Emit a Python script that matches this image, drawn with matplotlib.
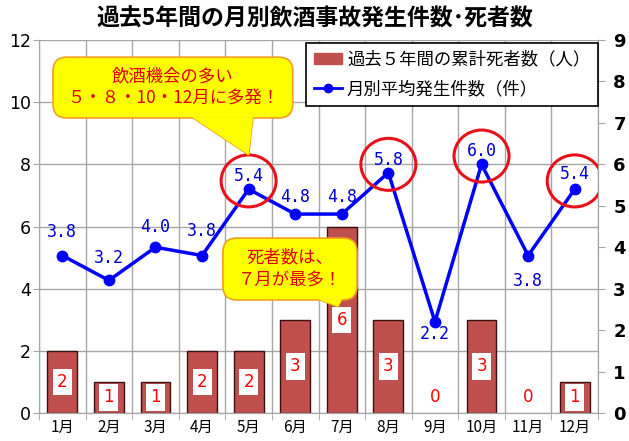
import matplotlib
matplotlib.use('Agg')
import matplotlib.pyplot as plt
from matplotlib.patches import FancyBboxPatch, Polygon, Ellipse, Patch
from matplotlib.lines import Line2D
import numpy as np

plt.rcParams['font.family'] = ['Noto Sans CJK JP', 'DejaVu Sans']

months = ['1月', '2月', '3月', '4月', '5月', '6月', '7月', '8月', '9月', '10月', '11月', '12月']
deaths = [2, 1, 1, 2, 2, 3, 6, 3, 0, 3, 0, 1]
avg_cases = [3.8, 3.2, 4.0, 3.8, 5.4, 4.8, 4.8, 5.8, 2.2, 6.0, 3.8, 5.4]
avg_labels = ['3.8', '3.2', '4.0', '3.8', '5.4', '4.8', '4.8', '5.8', '2.2', '6.0', '3.8', '5.4']
highlight = [4, 7, 9, 11]
left_ticks = [0, 2, 4, 6, 8, 10, 12]
right_ticks = [0, 1, 2, 3, 4, 5, 6, 7, 8, 9]
title = '過去5年間の月別飲酒事故発生件数･死者数'
legend_bar = '過去５年間の累計死者数（人）'
legend_line = '月別平均発生件数（件）'
callout1 = '飲酒機会の多い\n５・８・10・12月に多発！'
callout2 = '死者数は、\n７月が最多！'

# label vertical offsets in pixels (positive = above)
label_dy = [24, 22, 20, 25, 13, 17, 17, 13, -12, 13, -25, 15]

W, H = 629, 441
fig = plt.figure(figsize=(W / 100, H / 100), dpi=100)
ax = fig.add_axes([39 / W, 1 - 413 / H, 559 / W, 373 / H])
ax2 = ax.twinx()

x = np.arange(len(months))
grid_c = '#a6a6a6'

# bars
ax.bar(x, deaths, width=0.64, color='#c0504d', edgecolor='#3a1010',
       linewidth=[1.0 if v > 0 else 0 for v in deaths], zorder=2)
ax.set_ylim(0, 12)
ax.set_xlim(-0.5, len(months) - 0.5)
ax.set_yticks(left_ticks)
ax.set_xticks(x)
ax.set_xticklabels(months, fontsize=11)
ax.set_xticks(np.arange(-0.5, len(months), 1), minor=True)
ax.tick_params(axis='x', which='major', length=0, pad=4)
ax.tick_params(axis='x', which='minor', length=5, color=grid_c, direction='out')
ax.tick_params(axis='y', length=4, color=grid_c, labelsize=12.5, pad=2)
for lab in ax.get_yticklabels():
    lab.set_fontfamily(['Liberation Sans Narrow', 'DejaVu Sans'])
ax.grid(True, axis='y', color=grid_c, linewidth=1.0, zorder=0)
ax.grid(True, axis='x', which='minor', color=grid_c, linewidth=1.0, zorder=0)
ax.set_axisbelow(True)
for sp in ax.spines.values():
    sp.set_color(grid_c)
ax.spines['top'].set_visible(False)

# bar labels
for xi, v in zip(x, deaths):
    ypos = max(v / 2, 0.5)
    if v > 0:
        ax.text(xi, ypos, str(v), ha='center', va='center', color='#ff0000', fontsize=12,
                fontfamily=['DejaVu Sans'], zorder=4,
                bbox=dict(boxstyle='square,pad=0.25', fc='white', ec='none'))
    else:
        ax.text(xi, ypos, str(v), ha='center', va='center', color='#ff0000', fontsize=12,
                fontfamily=['DejaVu Sans'], zorder=4)

# line
ax2.plot(x, avg_cases, color='#0000ff', linewidth=2.5, marker='o', markersize=7.5, zorder=5)
ax2.set_ylim(0, 9)
ax2.set_yticks(right_ticks)
ax2.tick_params(axis='y', length=5, color=grid_c, labelsize=13, pad=6)
for lab in ax2.get_yticklabels():
    lab.set_fontweight('bold')
    lab.set_fontfamily(['DejaVu Sans'])
for sp in ax2.spines.values():
    sp.set_color(grid_c)
ax2.spines['top'].set_visible(False)

for xi, v, s, dy in zip(x, avg_cases, avg_labels, label_dy):
    ax2.annotate(s, (xi, v), xytext=(0, dy * 0.72), textcoords='offset points',
                 ha='center', va='center', color='#0000cc', fontsize=12,
                 fontfamily=['DejaVu Sans Mono'], zorder=6)

# red circles
px_per_x = 559 / 12
px_per_y = 373 / 9
for i in highlight:
    e = Ellipse((x[i], avg_cases[i] + 0.2), width=2 * 27.5 / px_per_x, height=2 * 26 / px_per_y,
                fill=False, edgecolor='#e8101a', linewidth=2.2, zorder=7)
    ax2.add_patch(e)

# callouts (in ax2 data coordinates computed from axes fractions)
def frac_to_data(fx, fy):
    return (-0.5 + fx * 12, fy * 9)

def callout(box, tail, text, fs):
    (fx0, fy0, fx1, fy1) = box
    x0, y0 = frac_to_data(fx0, fy0)
    x1, y1 = frac_to_data(fx1, fy1)
    ec = '#f0a020'
    fc = '#ffff00'
    tri = Polygon(tail, closed=True, fc=fc, ec=ec, linewidth=1.2, zorder=8)
    ax2.add_patch(tri)
    rb = FancyBboxPatch((x0, y0), x1 - x0, y1 - y0,
                        boxstyle='round,pad=0,rounding_size=0.3', mutation_aspect=px_per_x / px_per_y,
                        fc=fc, ec=ec, linewidth=1.2, zorder=9)
    ax2.add_patch(rb)
    tri2 = Polygon(tail, closed=True, fc=fc, ec='none', zorder=10)
    ax2.add_patch(tri2)
    ax2.text((x0 + x1) / 2, (y0 + y1) / 2, text, ha='center', va='center', color='#e00000',
             fontsize=fs, linespacing=1.35, zorder=11)

# callout 1 - tail tip at top of 5月 circle
c1x0, c1y0 = frac_to_data(0.025, 0.791)
tip1 = (x[4], avg_cases[4] + 0.2 + 26 / px_per_y)
tail1 = [(c1x0 + (192 - 53) / px_per_x, c1y0 + 0.02), (c1x0 + (253 - 53) / px_per_x, c1y0 + 0.02), tip1]
callout((0.025, 0.791, 0.454, 0.954), tail1, callout1, 12.5)

# callout 2 - tail pointing toward 7月 bar
c2x0, c2y0 = frac_to_data(0.329, 0.303)
tip2 = (x[6] - 0.08, deaths[6] * 0.57 * 9 / 12)
tail2 = [(c2x0 + (318 - 223) / px_per_x, c2y0 + 0.02), (c2x0 + (342 - 223) / px_per_x, c2y0 + 0.02), tip2]
callout((0.329, 0.303, 0.569, 0.469), tail2, callout2, 12.5)

# legend
handles = [Patch(fc='#c0504d', ec='#c0504d'),
           Line2D([0], [0], color='#0000ff', linewidth=2, marker='o', markersize=6)]
leg = ax2.legend(handles, [legend_bar, legend_line], loc='upper right',
                 bbox_to_anchor=(1.0, 0.992), fontsize=12.5, frameon=True, fancybox=False,
                 edgecolor='black', framealpha=1, borderpad=0.45, labelspacing=0.65,
                 handlelength=1.6, handleheight=0.6, handletextpad=0.3, borderaxespad=0)
leg.get_frame().set_linewidth(1.2)
leg.set_zorder(12)

fig.text(315 / W, 1 - 19 / H, title, ha='center', va='center', fontsize=16.5, fontweight='bold')

fig.savefig('out.png', dpi=100)
